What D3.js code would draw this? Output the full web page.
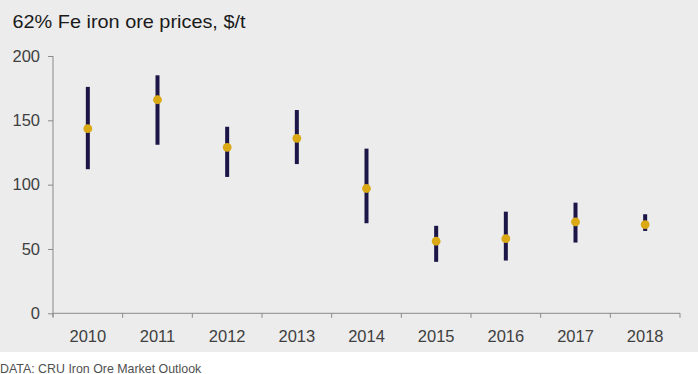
<!DOCTYPE html>
<html><head><meta charset="utf-8">
<script src="https://cdn.jsdelivr.net/npm/d3@7"></script>
<style>
html,body{margin:0;padding:0;background:#fff;}
svg{display:block;font-family:"Liberation Sans",Arial,sans-serif;}
</style></head>
<body><svg id="chart" width="698" height="374"></svg>
<script>
const years = ["2010","2011","2012","2013","2014","2015","2016","2017","2018"];
const highs = [176, 185, 145, 158, 128, 68, 79, 86, 77];
const lows  = [112, 131, 106, 116, 70, 40, 41, 55, 64];
const avgs  = [143.5, 166, 129, 136, 97, 56, 58, 71, 69];
const yTicks = [0, 50, 100, 150, 200];

const svg = d3.select("#chart");
svg.append("rect").attr("x",0).attr("y",0).attr("width",698).attr("height",352).attr("fill","#ececec");

const x = d3.scaleBand().domain(years).range([53, 680]);
const y = d3.scaleLinear().domain([0, 200]).range([313.3, 56]);

svg.append("text").attr("x",12.5).attr("y",28).attr("font-size",18.5).attr("fill","#1a1a1a")
  .attr("textLength",233).attr("lengthAdjust","spacingAndGlyphs")
  .text("62% Fe iron ore prices, $/t");

// y axis
const yAxis = svg.append("g").attr("transform","translate(53,0)")
  .call(d3.axisLeft(y).tickValues(yTicks).tickSize(5).tickPadding(8).tickFormat(d3.format("d")));
yAxis.select(".domain").attr("stroke","#8a8a8a").attr("d","M0,56V317");
yAxis.selectAll(".tick line").attr("stroke","#8a8a8a");
yAxis.selectAll(".tick text").attr("font-size",16.5).attr("fill","#404040").attr("font-family","Liberation Sans, Arial, sans-serif");

// x axis
const xAxis = svg.append("g").attr("transform","translate(0,313.3)")
  .call(d3.axisBottom(x).tickSize(0).tickPadding(17));
xAxis.select(".domain").attr("stroke","#8a8a8a").attr("d","M53,0H680");
xAxis.selectAll(".tick text").attr("font-size",16.5).attr("fill","#404040").attr("font-family","Liberation Sans, Arial, sans-serif");
const edges = years.map(d => x(d)).concat([x(years[years.length-1]) + x.bandwidth()]);
xAxis.selectAll("line.edge").data(edges).enter().append("line").attr("class","edge")
  .attr("x1",d=>d).attr("x2",d=>d).attr("y1",0).attr("y2",4.5).attr("stroke","#8a8a8a");

const cx = d => x(d) + x.bandwidth()/2;
svg.append("g").selectAll("line").data(years).enter().append("line")
  .attr("x1",cx).attr("x2",cx)
  .attr("y1",(d,i)=>y(highs[i])).attr("y2",(d,i)=>y(lows[i]))
  .attr("stroke","#1b1548").attr("stroke-width",4);
svg.append("g").selectAll("circle").data(years).enter().append("circle")
  .attr("cx",cx).attr("cy",(d,i)=>y(avgs[i])).attr("r",4.4).attr("fill","#daa914");

svg.append("text").attr("x",0).attr("y",372.5).attr("font-size",12.4).attr("fill","#505050")
  .text("DATA: CRU Iron Ore Market Outlook");
</script></body></html>
